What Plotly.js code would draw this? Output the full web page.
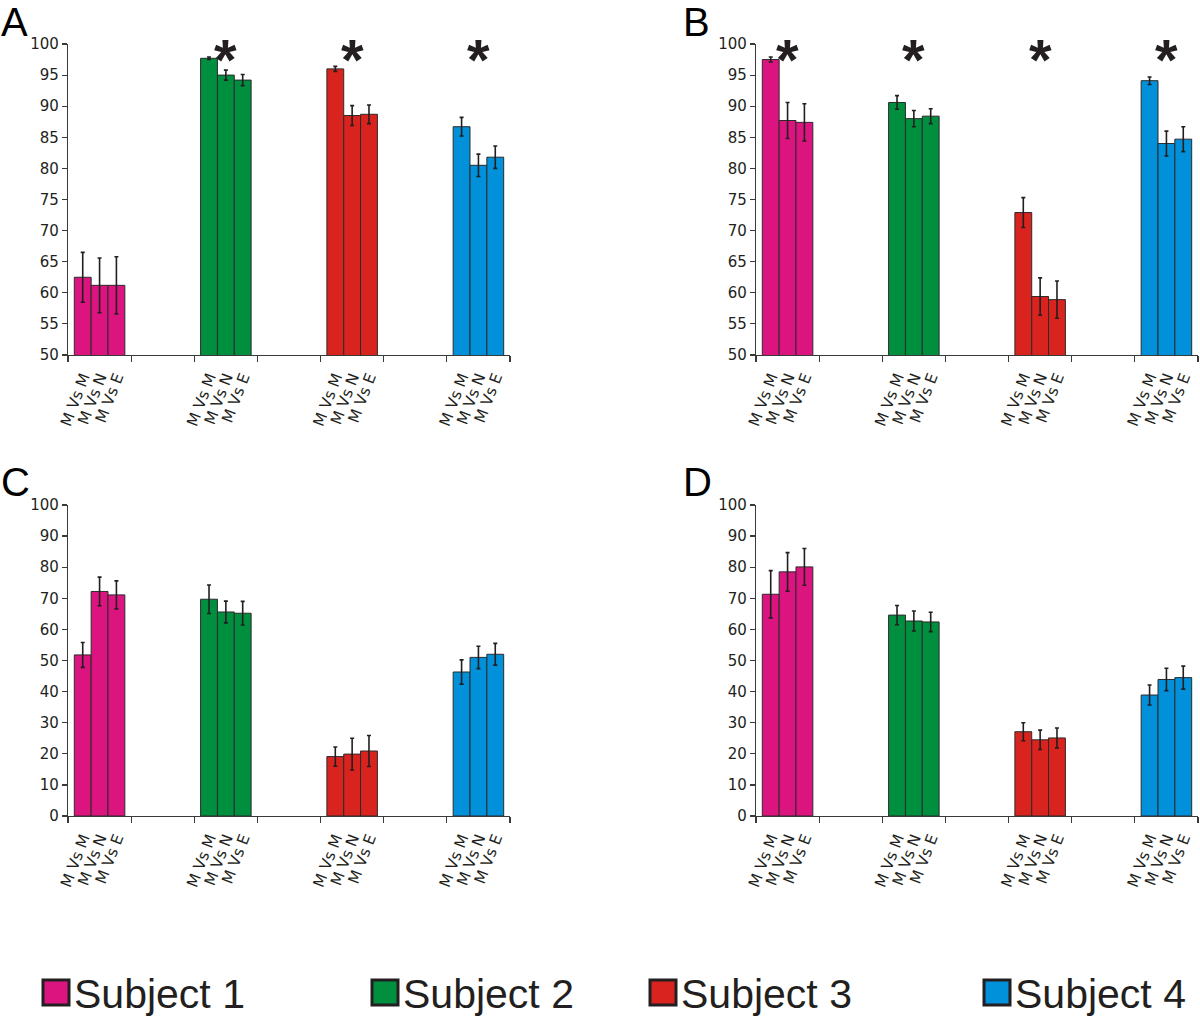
<!DOCTYPE html>
<html>
<head>
<meta charset="utf-8">
<script src="https://cdn.plot.ly/plotly-3.0.1.min.js"></script>
<style>html,body{margin:0;padding:0;background:#fff;}#chart{width:1200px;height:1021px;}</style>
</head>
<body>
<div id="chart"></div>
<script>
// ---- data ----
const comparisons = ["M Vs M", "M Vs N", "M Vs E"];
const subjects = ["Subject 1", "Subject 2", "Subject 3", "Subject 4"];
const subjectColors = ["#DC1480", "#008F3E", "#D8231E", "#0091DA"];

const A_values = [[62.5, 61.2, 61.2], [97.7, 95.0, 94.2], [96.0, 88.5, 88.7], [86.7, 80.5, 81.8]];
const A_errors = [[4.0, 4.4, 4.6], [0.2, 0.8, 0.9], [0.4, 1.6, 1.5], [1.5, 1.8, 1.8]];
const A_significant = [false, true, true, true];

const B_values = [[97.5, 87.7, 87.4], [90.6, 88.0, 88.4], [72.9, 59.4, 58.9], [94.1, 84.0, 84.7]];
const B_errors = [[0.4, 2.9, 3.0], [1.1, 1.3, 1.2], [2.4, 3.0, 3.0], [0.6, 2.0, 2.0]];
const B_significant = [true, true, true, true];

const C_values = [[51.8, 72.2, 71.1], [69.7, 65.6, 65.2], [19.1, 19.9, 20.9], [46.3, 51.0, 52.0]];
const C_errors = [[4.0, 4.6, 4.5], [4.6, 3.5, 3.8], [3.1, 5.1, 5.0], [3.9, 3.6, 3.5]];
const C_significant = [false, false, false, false];

const D_values = [[71.3, 78.5, 80.1], [64.6, 62.7, 62.4], [27.1, 24.5, 25.1], [38.9, 43.9, 44.5]];
const D_errors = [[7.6, 6.2, 5.9], [3.1, 3.2, 3.1], [2.9, 3.1, 3.2], [3.2, 3.6, 3.7]];
const D_significant = [false, false, false, false];

const panelLetters = ["A", "B", "C", "D"];
const yRanges = [[50, 100], [50, 100], [0, 100], [0, 100]];
const yDticks = [5, 5, 10, 10];

// ---- layout geometry (pixels) ----
const W = 1200, H = 1021;
const px = v => v / W;
const py = v => 1 - v / H;
const panelBoxes = [
  {x0: 68, x1: 510, y0: 44, y1: 355, lx: -1, ly: -2},
  {x0: 756, x1: 1198, y0: 44, y1: 355, lx: 681, ly: -2},
  {x0: 68, x1: 510, y0: 505, y1: 816, lx: -1, ly: 458},
  {x0: 756, x1: 1198, y0: 505, y1: 816, lx: 681, ly: 458}
];
const groupSpacing = 2;      // a blank category between subject groups
const barWidth = 0.8 / 3;

const panelValues = [A_values, B_values, C_values, D_values];
const panelErrors = [A_errors, B_errors, C_errors, D_errors];
const panelSig = [A_significant, B_significant, C_significant, D_significant];

const ink = "#231F20";
const axisColor = "#3a3a3a";
const tickFontFamily = "DejaVu Sans, Open Sans, sans-serif";
const traces = [];
const annotations = [];
const shapes = [];
const layout = {
  width: W, height: H,
  margin: {l: 0, r: 0, t: 0, b: 0},
  paper_bgcolor: "#fff", plot_bgcolor: "#fff",
  showlegend: false,
  barmode: "overlay",
  font: {family: tickFontFamily, color: ink}
};

panelLetters.forEach((letter, p) => {
  const suffix = p === 0 ? "" : String(p + 1);
  const box = panelBoxes[p];
  const tickvals = [], ticktext = [];
  subjects.forEach((s, g) => {
    const xs = comparisons.map((c, k) => g * groupSpacing + (k - 1) * barWidth);
    xs.forEach((x, k) => { tickvals.push(x); ticktext.push(comparisons[k]); });
    traces.push({
      type: "bar",
      name: s,
      legendgroup: s,
      x: xs,
      y: panelValues[p][g],
      width: barWidth,
      text: comparisons,
      hovertemplate: s + " %{text}: %{y}<extra></extra>",
      textposition: "none",
      marker: {color: subjectColors[g], line: {color: "#2b2b2b", width: 1}},
      error_y: {type: "data", array: panelErrors[p][g], visible: true,
                color: ink, thickness: 1.6, width: 2},
      xaxis: "x" + suffix, yaxis: "y" + suffix
    });
    if (panelSig[p][g]) {
      annotations.push({
        xref: "x" + suffix, yref: "y" + suffix,
        x: g * groupSpacing, y: yRanges[p][1],
        text: "<b>*</b>", showarrow: false,
        font: {family: "Liberation Sans, Arial, sans-serif", size: 58, color: ink},
        xanchor: "center", yanchor: "middle", yshift: -15
      });
    }
  });
  layout["xaxis" + suffix] = {
    domain: [px(box.x0), px(box.x1)],
    anchor: "y" + suffix,
    range: [-0.5, (subjects.length - 1) * groupSpacing + 0.5],
    tickmode: "array", tickvals: tickvals, ticktext: ticktext,
    ticks: "", tickangle: -69, ticklabelstandoff: 6,
    tickfont: {family: tickFontFamily, size: 15.5, color: ink},
    showline: true, linecolor: axisColor, linewidth: 1.2,
    showgrid: false, zeroline: false, fixedrange: true,
    minor: {ticks: "outside", tick0: -0.5, dtick: 1, ticklen: 6, tickcolor: axisColor, tickwidth: 1.2, showgrid: false}
  };
  layout["yaxis" + suffix] = {
    domain: [py(box.y1), py(box.y0)],
    anchor: "x" + suffix,
    range: yRanges[p], tickmode: "linear", tick0: yRanges[p][0], dtick: yDticks[p],
    ticks: "outside", ticklen: 5, tickcolor: axisColor, tickwidth: 1.2,
    tickfont: {family: tickFontFamily, size: 15, color: ink},
    showline: true, linecolor: axisColor, linewidth: 1.2,
    showgrid: false, zeroline: false, fixedrange: true
  };
  annotations.push({
    xref: "paper", yref: "paper", x: px(box.lx), y: py(box.ly),
    xanchor: "left", yanchor: "top", showarrow: false,
    text: letter,
    font: {family: "Liberation Sans, Arial, sans-serif", size: 40, color: "#000"}
  });
});

// ---- legend (drawn as shapes + text) ----
const legendSquareX = [43, 372, 650, 984];
subjects.forEach((s, g) => {
  const x0 = legendSquareX[g];
  shapes.push({
    type: "rect", xref: "paper", yref: "paper",
    x0: px(x0), x1: px(x0 + 26), y0: py(1005), y1: py(980),
    fillcolor: subjectColors[g], line: {color: ink, width: 3}
  });
  annotations.push({
    xref: "paper", yref: "paper", x: px(x0 + 29), y: py(994),
    xanchor: "left", yanchor: "middle", showarrow: false,
    text: s,
    font: {family: "Liberation Sans, Arial, sans-serif", size: 41, color: ink}
  });
});

layout.annotations = annotations;
layout.shapes = shapes;

Plotly.newPlot("chart", traces, layout, {displayModeBar: false, staticPlot: true});
</script>
</body>
</html>
